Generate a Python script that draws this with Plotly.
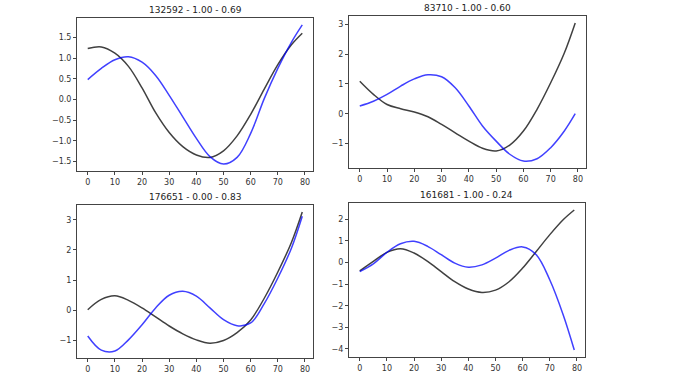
import plotly.graph_objects as go

# sample positions along the 80-step sequence
steps = [0, 5, 10, 15, 20, 25, 30, 35, 40, 45, 50, 55, 60, 65, 70, 75, 79]

titles = ["132592 - 1.00 - 0.69", "83710 - 1.00 - 0.60",
          "176651 - 0.00 - 0.83", "161681 - 1.00 - 0.24"]

# black = true series, blue = predicted series
true_1 = [1.23, 1.27, 1.12, 0.80, 0.28, -0.32, -0.80, -1.14, -1.34, -1.40, -1.24, -0.88, -0.36, 0.25, 0.84, 1.32, 1.60]
pred_1 = [0.48, 0.75, 0.96, 1.03, 0.90, 0.58, 0.10, -0.42, -0.94, -1.38, -1.56, -1.40, -0.82, 0.02, 0.75, 1.38, 1.80]

true_2 = [1.09, 0.65, 0.31, 0.17, 0.06, -0.10, -0.36, -0.64, -0.92, -1.16, -1.25, -1.05, -0.58, 0.15, 1.04, 2.04, 3.05]
pred_2 = [0.26, 0.42, 0.65, 0.93, 1.17, 1.31, 1.24, 0.87, 0.26, -0.41, -0.92, -1.36, -1.59, -1.51, -1.14, -0.58, 0.00]

true_3 = [0.02, 0.36, 0.48, 0.33, 0.08, -0.22, -0.52, -0.78, -0.98, -1.09, -1.00, -0.74, -0.32, 0.40, 1.27, 2.25, 3.26]
pred_3 = [-0.85, -1.32, -1.35, -0.98, -0.48, 0.08, 0.50, 0.63, 0.47, 0.08, -0.31, -0.51, -0.42, 0.22, 1.07, 2.06, 3.12]

true_4 = [-0.39, 0.05, 0.47, 0.64, 0.44, 0.05, -0.42, -0.89, -1.23, -1.39, -1.28, -0.89, -0.26, 0.51, 1.29, 1.99, 2.43]
pred_4 = [-0.42, -0.06, 0.47, 0.87, 0.98, 0.75, 0.36, -0.03, -0.22, -0.11, 0.20, 0.56, 0.72, 0.36, -0.81, -2.45, -4.05]

y_ticks = [
    [-1.5, -1.0, -0.5, 0.0, 0.5, 1.0, 1.5],
    [-1, 0, 1, 2, 3],
    [-1, 0, 1, 2, 3],
    [-4, -3, -2, -1, 0, 1, 2],
]
x_ticks = [0, 10, 20, 30, 40, 50, 60, 70, 80]

W, H = 677, 379
# axes boxes in pixels: left, right, top, bottom
boxes = [(77, 313, 18, 171), (349, 586, 16, 168), (77, 313, 205, 358), (349, 585, 203, 357)]
series = [(true_1, pred_1), (true_2, pred_2), (true_3, pred_3), (true_4, pred_4)]

fig = go.Figure()
font = dict(family="DejaVu Sans", size=8, color="#333")

for i, ((l, r, t, b), (yt, yp)) in enumerate(zip(boxes, series)):
    n = "" if i == 0 else str(i + 1)
    lo, hi = min(yt + yp), max(yt + yp)
    pad = (hi - lo) * 0.05
    fig.add_trace(go.Scatter(x=steps, y=yt, mode="lines", line=dict(color="rgba(0,0,0,0.75)", width=1.5, shape="spline"),
                             xaxis="x" + n, yaxis="y" + n, showlegend=False))
    fig.add_trace(go.Scatter(x=steps, y=yp, mode="lines", line=dict(color="rgba(0,0,255,0.75)", width=1.5, shape="spline"),
                             xaxis="x" + n, yaxis="y" + n, showlegend=False))
    axis_style = dict(showgrid=False, zeroline=False, showline=True, mirror=True, linecolor="#444", linewidth=1,
                      ticks="outside", ticklen=3, tickcolor="#444", tickfont=font)
    fig.layout["xaxis" + n] = dict(domain=[l / W, r / W], range=[-3.95, 82.95], tickvals=x_ticks,
                                   anchor="y" + n, **axis_style)
    fmt = ".1f" if i == 0 else "d"
    fig.layout["yaxis" + n] = dict(domain=[1 - b / H, 1 - t / H], range=[lo - pad, hi + pad], tickvals=y_ticks[i],
                                   tickformat=fmt, anchor="x" + n, **axis_style)
    fig.add_annotation(text=titles[i], x=(l + r) / 2 / W, y=1 - (t - 1) / H, xref="paper", yref="paper",
                       xanchor="center", yanchor="bottom", showarrow=False,
                       font=dict(family="DejaVu Sans", size=9, color="#222"))

fig.update_layout(width=W, height=H, margin=dict(l=0, r=0, t=0, b=0),
                  paper_bgcolor="white", plot_bgcolor="white")
# drop the default page margin so the figure sits at the window's corner
fig.write_html("out.html", config={"displayModeBar": False},
               post_script="document.body.style.margin='0';")
